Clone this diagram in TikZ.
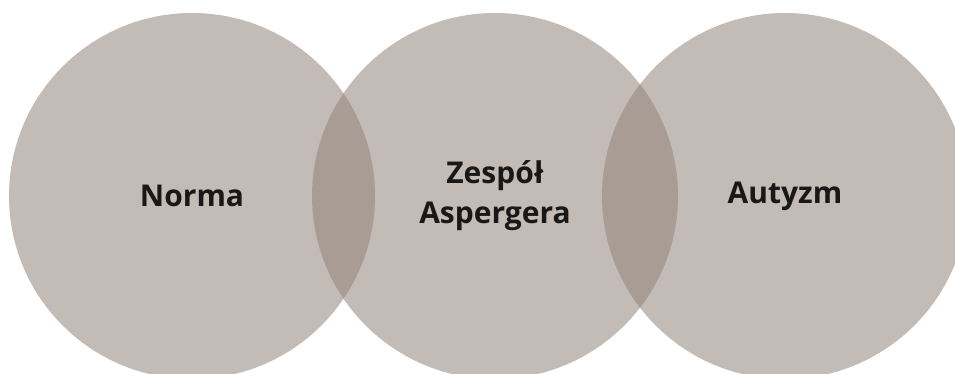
\documentclass[tikz,border=0pt]{standalone}
\usepackage{fontspec}
\setmainfont{Open Sans}
\definecolor{circ}{RGB}{146,131,122}
\definecolor{txt}{RGB}{26,24,22}
\tikzset{
  venn/.style={circle, minimum size=366pt, inner sep=0pt, outer sep=0pt,
    fill=circ, fill opacity=0.55, text opacity=1, text=txt,
    font=\bfseries\fontsize{30}{40}\selectfont, align=center}
}
\begin{document}
\begin{tikzpicture}[x=1pt,y=1pt]
\useasboundingbox (0,0) rectangle (955,-373);
\begin{scope}
\clip (0,0) rectangle (955,-373);
\node[venn] (norma) at (192,-196) {Norma};
\node[venn] (asp) at (495,-196) {Zespół\\Aspergera};
\node[venn] (aut) at (785,-196) {Autyzm};
\end{scope}
\end{tikzpicture}
\end{document}
